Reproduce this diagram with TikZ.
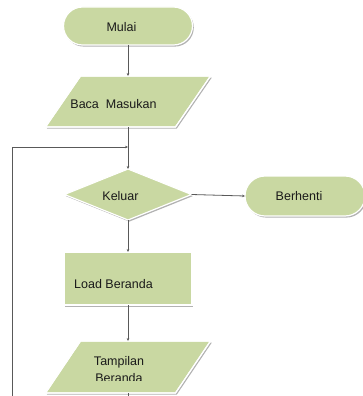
\documentclass[tikz,border=0pt]{standalone}
\usepackage{fontspec}
\setmainfont{Liberation Sans}
\usetikzlibrary{shapes.geometric,shapes.misc,shadows,arrows.meta,calc}
\definecolor{boxgreen}{HTML}{C9D8A2}
\definecolor{linegray}{HTML}{595959}
\definecolor{txtcol}{HTML}{1A1A1A}
\begin{document}
\begin{tikzpicture}[x=1pt,y=-1pt,
  shapebox/.style={fill=boxgreen, draw=white, line width=1.2pt,
    drop shadow={shadow xshift=1.3pt, shadow yshift=-1.6pt, fill=black, opacity=0.3},
    inner sep=0pt, outer sep=0pt},
  termbox/.style={shapebox, rounded rectangle},
  ioanchor/.style={rectangle, minimum width=130pt, minimum height=51pt, inner sep=0pt, outer sep=0pt},
  decbox/.style={shapebox, diamond, minimum width=127pt, minimum height=51pt},
  procbox/.style={shapebox, rectangle, minimum width=128pt, minimum height=53pt},
  flow/.style={draw=linegray, line width=0.8pt, -{Stealth[length=3pt,width=2.6pt]}},
  plainflow/.style={draw=linegray, line width=0.8pt},
  lbl/.style={font=\fontsize{12.5}{15}\selectfont, text=txtcol, inner sep=0pt, anchor=base}
]
\useasboundingbox (0,0) rectangle (362,396);
\fill[white] (0,0) rectangle (362,396);

% shapes
\node[termbox, minimum width=129pt, minimum height=38pt] (mulai) at (128,26) {};
\node[ioanchor] (baca) at (128,101.5) {};
\fill[shapebox] ($(baca.north west)+(17.5,0)$) -- ($(baca.north east)+(17.5,0)$)
  -- ($(baca.south east)+(-17.5,0)$) -- ($(baca.south west)+(-17.5,0)$) -- cycle;
\draw[white, line width=1.2pt] ($(baca.north west)+(17.5,0)$) -- ($(baca.north east)+(17.5,0)$)
  -- ($(baca.south east)+(-17.5,0)$) -- ($(baca.south west)+(-17.5,0)$) -- cycle;
\node[decbox] (keluar) at (128,194.5) {};
\node[termbox, minimum width=120pt, minimum height=40pt] (berhenti) at (305,196) {};
\node[procbox] (load) at (128,278.5) {};
\node[ioanchor, minimum height=52pt] (tampil) at (128,367) {};
\fill[shapebox] ($(tampil.north west)+(17.5,0)$) -- ($(tampil.north east)+(17.5,0)$)
  -- ($(tampil.south east)+(-17.5,0)$) -- ($(tampil.south west)+(-17.5,0)$) -- cycle;
\draw[white, line width=1.2pt] ($(tampil.north west)+(17.5,0)$) -- ($(tampil.north east)+(17.5,0)$)
  -- ($(tampil.south east)+(-17.5,0)$) -- ($(tampil.south west)+(-17.5,0)$) -- cycle;

% texts
\node[lbl] (tmulai) at (121.5,32) {Mulai};
\node[lbl] (tbaca) at (113.5,108) {Baca\ \ Masukan};
\node[lbl] (tkeluar) at (120.5,200) {Keluar};
\node[lbl] (tberhenti) at (299,200) {Berhenti};
\node[lbl] (tload) at (113.5,288) {Load Beranda};
\begin{scope}
  \clip (60,340) rectangle (200,380.5);
  \node[lbl] (ttampil1) at (119,365) {Tampilan};
  \node[lbl] (ttampil2) at (119,382.5) {Beranda};
\end{scope}

% connector helpers
\coordinate (junc) at (128,147);
\coordinate (loopbot) at (12,400);
\coordinate (bottomend) at (128,400);

% connectors
\draw[flow] (mulai.south) -- (baca.north);
\draw[flow] (baca.south) -- (keluar.north);
\draw[flow] (loopbot) |- (junc);
\draw[flow] (keluar.east) -- (berhenti.west);
\draw[flow] (keluar.south) -- (load.north);
\draw[flow] (load.south) -- (tampil.north);
\draw[plainflow] (tampil.south) -- (bottomend);
\end{tikzpicture}
\end{document}
